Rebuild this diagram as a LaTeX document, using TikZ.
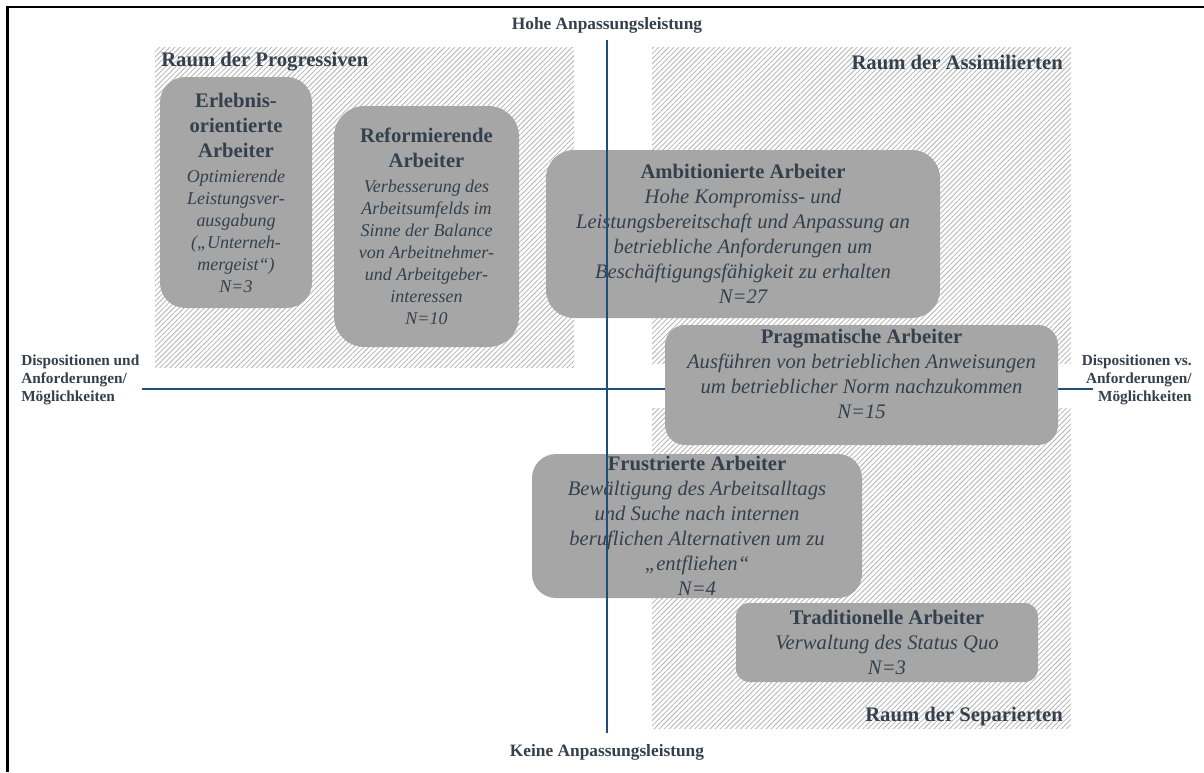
\documentclass[tikz,border=0pt]{standalone}
\usepackage{fontspec}
\setmainfont{Liberation Serif}
\usepackage{xcolor}
\usepackage{tikz}
\usetikzlibrary{patterns.meta, positioning}
\definecolor{schrift}{RGB}{52,64,76}
\definecolor{achse}{RGB}{31,78,121}
\definecolor{feld}{RGB}{166,166,166}
\definecolor{schraffur}{RGB}{178,178,178}
\newcommand{\titel}[1]{{\fontsize{15.5}{18.8}\selectfont\bfseries\upshape #1}}

\begin{document}
\begin{tikzpicture}[x=0.75pt, y=-0.75pt,
        raum/.style={pattern={Lines[angle=45, distance=2.7pt, line width=0.6pt]}, pattern color=schraffur},
        raumname/.style={text=schrift, inner sep=0pt, font=\fontsize{15.5}{18.8}\selectfont\bfseries},
        pol/.style={text=schrift, inner sep=0pt, font=\fontsize{13}{15}\selectfont\bfseries},
        seite/.style={text=schrift, inner sep=0pt, font=\fontsize{11.5}{13.5}\selectfont\bfseries},
        typ/.style={fill=feld, rounded corners=#1, text=schrift, align=center, inner sep=0pt,
            font=\fontsize{15.5}{18.8}\selectfont\itshape},
        typklein/.style={typ=#1, font=\fontsize{13.5}{16.5}\selectfont\itshape},
        achsenlinie/.style={draw=achse, line width=1.5pt}]

    \useasboundingbox (0,0) rectangle (1204,772);
    \draw[line width=1.6pt] (7.5,772) -- (7.5,7) -- (1204,7);

    \fill[raum] (155,47)  rectangle (574,367);
    \fill[raum] (652,47)  rectangle (1071,363);
    \fill[raum] (652,408) rectangle (1071,728);

    \node[raumname, anchor=west]  (progressiv)  at (161,62)  {Raum der Progressiven};
    \node[raumname, anchor=east]  (assimiliert) at (1063,62) {Raum der Assimilierten};
    \node[raumname, anchor=east]  (separiert)   at (1063,717) {Raum der Separierten};

    \node[pol]                    (hohe)   at (607,25)   {Hohe Anpassungsleistung};
    \node[pol]                    (keine)  at (607,752)  {Keine Anpassungsleistung};
    \node[seite, anchor=west, align=left]  (links)  at (21,380)   {Dispositionen und\\Anforderungen/\\Möglichkeiten};
    \node[seite, anchor=east, align=right] (rechts) at (1192,380) {Dispositionen vs.\\Anforderungen/\\Möglichkeiten};

    \draw[achsenlinie] ([xshift=1.5pt, yshift=-7pt]links.east) -- ([xshift=8.25pt, yshift=-7pt]rechts.west);

    \node[typklein=19pt, minimum width=114pt, minimum height=173.25pt] (erlebnis) at (236,192.5)
        {\titel{Erlebnis-}\\[2.25pt]\titel{orientierte}\\[2.25pt]\titel{Arbeiter}\\[2.25pt]Optimierende\\Leistungsver-\\ausgabung\\(„Unterneh-\\mergeist“)\\N=3};
    \node[typklein=23pt, minimum width=138.75pt, minimum height=180.75pt] (reform) at (426.5,226.5)
        {\titel{Reformierende}\\[2.25pt]\titel{Arbeiter}\\[2.25pt]Verbesserung des\\Arbeitsumfelds im\\Sinne der Balance\\von Arbeitnehmer-\\und Arbeitgeber-\\interessen\\N=10};
    \node[typ=21pt, minimum width=295.5pt, minimum height=126pt] (ambitioniert) at (743,234)
        {\titel{Ambitionierte Arbeiter}\\Hohe Kompromiss- und\\Leistungsbereitschaft und Anpassung an\\betriebliche Anforderungen um\\Beschäftigungsfähigkeit zu erhalten\\N=27};
    \node[typ=15pt, minimum width=294.75pt, minimum height=90pt] (pragmatisch) at (861.5,385) {};
    \node[typ=0pt, fill=none, below=3pt of pragmatisch.north] (pragmatischtext)
        {\titel{Pragmatische Arbeiter}\\Ausführen von betrieblichen Anweisungen\\um betrieblicher Norm nachzukommen\\N=15};
    \node[typ=18pt, minimum width=247.5pt, minimum height=108pt] (frustriert) at (697,526)
        {\titel{Frustrierte Arbeiter}\\Bewältigung des Arbeitsalltags\\und Suche nach internen\\beruflichen Alternativen um zu\\„entfliehen“\\N=4};
    \node[typ=10pt, minimum width=226.5pt, minimum height=59.25pt] (traditionell) at (887,642.5)
        {\titel{Traditionelle Arbeiter}\\Verwaltung des Status Quo\\N=3};

    \draw[achsenlinie] ([yshift=-5.3pt]hohe.south) -- ([yshift=8.3pt]keine.north);
\end{tikzpicture}
\end{document}
